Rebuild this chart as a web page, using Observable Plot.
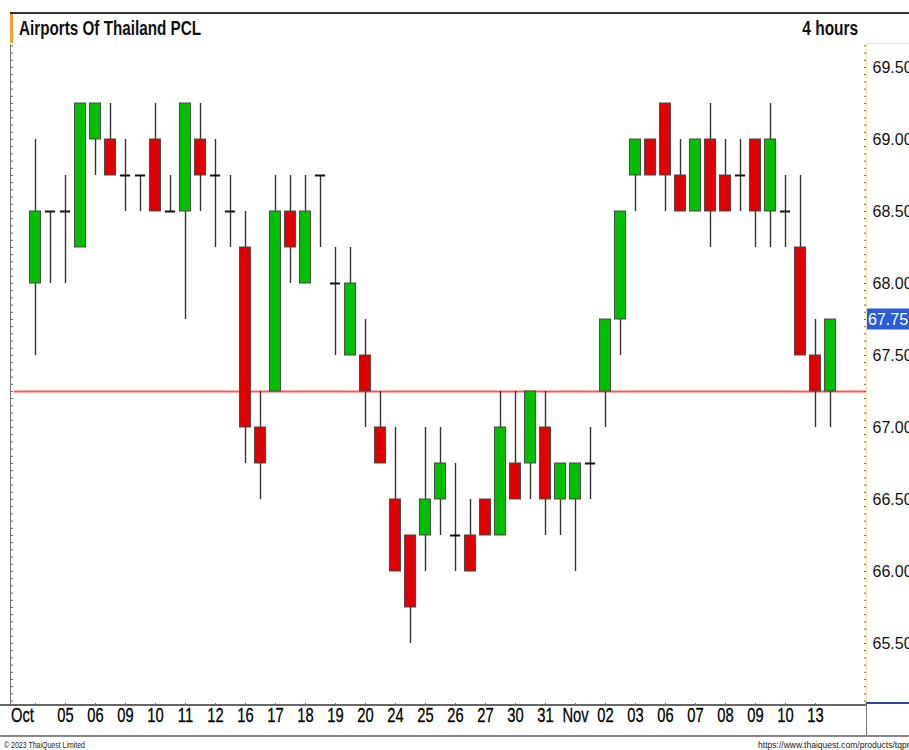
<!DOCTYPE html>
<html>
<head>
<meta charset="utf-8">
<script src="https://cdn.jsdelivr.net/npm/d3@7"></script>
<script src="https://cdn.jsdelivr.net/npm/@observablehq/plot@0.6"></script>
<style>
  html, body { margin: 0; padding: 0; background: #fff; }
  #wrap { position: relative; width: 909px; height: 750px; overflow: hidden; background: #fff;
          font-family: "Liberation Sans Narrow", "Liberation Sans", Arial, sans-serif; color: #111; }
  .abs { position: absolute; }
  .line { position: absolute; }
  #title { left: 19px; top: 16px; font-size: 21px; font-weight: bold; white-space: nowrap; transform-origin: 0 50%; }
  #period { right: 51px; top: 17px; font-size: 20px; font-weight: bold; white-space: nowrap; transform-origin: 100% 50%; }
  #chart { left: 0; top: 44px; }
  #copy { left: 4px; top: 740px; font-size: 9px; white-space: nowrap; transform-origin: 0 50%; color: #222; }
  #url { left: 758px; top: 740px; font-size: 9px; white-space: nowrap; color: #222; transform-origin: 0 50%; }
</style>
</head>
<body>
<div id="wrap">
  <div class="line" style="left:10px;top:12px;width:899px;height:2px;background:#333"></div>
  <div class="line" style="left:10px;top:14px;width:3px;height:29px;background:#f0a030"></div>
  <div id="title" class="abs">Airports Of Thailand PCL</div>
  <div id="period" class="abs">4 hours</div>
  <div id="chart" class="abs"></div>
  <div class="line" style="left:10px;top:44px;width:1px;height:661px;background:#777"></div>
  <div class="line" style="left:866px;top:44px;width:1px;height:659px;background:#f1e3a0"></div>
  <div class="line" style="left:866px;top:43px;width:43px;height:1px;background:#f1e3a0"></div>
  <div class="line" style="left:866px;top:702px;width:43px;height:2px;background:#2a46a8"></div>
  <div class="line" style="left:0px;top:704px;width:867px;height:2px;background:#666"></div>
  <div class="line" style="left:866px;top:704px;width:1px;height:32px;background:#777"></div>
  <div class="line" style="left:0px;top:735px;width:909px;height:2px;background:#888"></div>
  <div id="copy" class="abs">© 2023 ThaiQuest Limited</div>
  <div id="url" class="abs">https://www.thaiquest.com/products/tqprofessional</div>
</div>
<script>
// ---- data (4-hour bars, two per trading day) ----
const openPrices  = [68.00,68.50,68.50,68.25,69.00,69.00,68.75,68.75,69.00,68.50,
                     68.50,69.00,68.75,68.50,68.25,67.00,67.25,68.50,68.00,68.75,
                     68.00,67.50,67.50,67.00,66.50,66.25,66.25,66.50,66.25,66.25,
                     66.50,66.25,66.75,66.75,67.00,66.50,66.50,66.75,67.25,67.75,
                     68.75,69.00,69.25,68.75,68.50,69.00,68.75,68.75,69.00,68.50,
                     68.50,68.25,67.50,67.25];
const highPrices  = [69.00,68.50,68.75,69.25,69.25,69.25,69.00,68.75,69.25,68.75,
                     69.25,69.25,69.00,68.75,68.50,67.25,68.75,68.75,68.75,68.75,
                     68.25,68.25,67.75,67.25,67.00,66.25,67.00,67.00,66.75,66.50,
                     66.50,67.25,67.25,67.25,67.25,66.75,66.75,67.00,67.75,68.50,
                     69.00,69.00,69.25,69.00,69.00,69.25,69.00,69.00,69.00,69.25,
                     68.75,68.75,67.75,67.75];
const lowPrices   = [67.50,68.00,68.00,68.25,68.75,68.75,68.50,68.50,68.50,68.50,
                     67.75,68.50,68.25,68.25,66.75,66.50,67.25,68.00,68.00,68.25,
                     67.50,67.50,67.00,66.75,66.00,65.50,66.00,66.25,66.00,66.00,
                     66.25,66.25,66.50,66.50,66.25,66.25,66.00,66.50,67.00,67.50,
                     68.50,68.75,68.50,68.50,68.50,68.25,68.50,68.50,68.25,68.25,
                     68.25,67.50,67.00,67.00];
const closePrices = [68.50,68.50,68.50,69.25,69.25,68.75,68.75,68.75,68.50,68.50,
                     69.25,68.75,68.75,68.50,67.00,66.75,68.50,68.25,68.50,68.75,
                     68.00,68.00,67.25,66.75,66.00,65.75,66.50,66.75,66.25,66.00,
                     66.25,67.00,66.50,67.25,66.50,66.75,66.75,66.75,67.75,68.50,
                     69.00,68.75,68.75,68.50,69.00,68.50,68.50,68.75,68.50,69.00,
                     68.50,67.50,67.25,67.75];
const dayLabels   = ["Oct","05","06","09","10","11","12","16","17","18","19","20","24","25",
                     "26","27","30","31","Nov","02","03","06","07","08","09","10","13"];
const dayFirstBar = [0,2,4,6,8,10,12,14,16,18,20,22,24,26,28,30,32,34,36,38,40,42,44,46,48,50,52];
const referenceLevel = 67.25;
const priceTicks = [65.5,66.0,66.5,67.0,67.5,68.0,68.5,69.0,69.5];

const bars = openPrices.map((o, i) => ({i, o, h: highPrices[i], l: lowPrices[i], c: closePrices[i]}));
const bodies = bars.filter(d => d.o !== d.c);
const dojis = bars.filter(d => d.o === d.c);
const minorTicks = d3.range(65.10, 69.66, 0.05);
const labelTable = dayFirstBar.map((b, k) => ({b, t: dayLabels[k]}));
const lastClose = closePrices[closePrices.length - 1];

const GREEN = "#00be00", RED = "#e00000";
const LABEL_FONT = "Liberation Sans, Arial, sans-serif";

const chart = Plot.plot({
  width: 909,
  height: 692,
  marginLeft: 10,
  marginRight: 43,
  marginTop: 0,
  marginBottom: 33,
  style: {background: "transparent", overflow: "visible"},
  x: {domain: [-1.6667, 55.4]},
  y: {domain: [65.0833, 69.6597]},
  marks: [
    Plot.ruleY([{level: referenceLevel}], {y: "level", x1: -1.4, x2: 55.4, stroke: "#ff5656", strokeWidth: 2}),
    Plot.ruleX(bars, {x: "i", y1: "l", y2: "h", stroke: "#333", strokeWidth: 1.4}),
    Plot.rect(bodies.filter(d => d.c > d.o), {
      x1: d => d.i - 0.37, x2: d => d.i + 0.37, y1: "o", y2: "c",
      fill: GREEN, stroke: "#4a4a4a", strokeWidth: 1
    }),
    Plot.rect(bodies.filter(d => d.c < d.o), {
      x1: d => d.i - 0.37, x2: d => d.i + 0.37, y1: "o", y2: "c",
      fill: RED, stroke: "#4a4a4a", strokeWidth: 1
    }),
    Plot.ruleY(dojis, {y: "o", x1: d => d.i - 0.34, x2: d => d.i + 0.34, stroke: "#111", strokeWidth: 2}),
    Plot.axisY({anchor: "right", ticks: priceTicks, tickSize: 0, tickPadding: 6,
                tickFormat: d => d.toFixed(2), fontSize: 16, fontFamily: LABEL_FONT,
                fill: "#111", label: null}),
    Plot.axisY({anchor: "right", ticks: minorTicks, tickSize: -3, stroke: "#666", fill: "none", label: null}),
    Plot.axisY({anchor: "left", ticks: minorTicks, tickSize: -3, stroke: "#666", fill: "none", label: null}),
    Plot.axisX({ticks: dayFirstBar, tickSize: 2, stroke: "#666", fill: "none", label: null}),
    Plot.text(labelTable.slice(1), {x: "b", text: "t", frameAnchor: "bottom", dy: 18,
      fontSize: 21, fill: "#000", fontFamily: LABEL_FONT, stroke: "#000", strokeWidth: 0.3}),
    Plot.text(labelTable.slice(0, 1), {x: "b", text: "t", frameAnchor: "bottom", dy: 18, dx: -13,
      fontSize: 21, fill: "#000", fontFamily: LABEL_FONT, stroke: "#000", strokeWidth: 0.3})
  ]
});

document.getElementById("chart").appendChild(chart);

// last-price marker on the right axis, positioned through Plot's y scale
const yLast = chart.scale("y").apply(lastClose);
const svg = d3.select(chart);
svg.append("rect").attr("x", 867).attr("y", yLast - 10.5).attr("width", 42).attr("height", 21).attr("fill", "#2b5bd6");
svg.append("text").attr("x", 868).attr("y", yLast).attr("dy", "0.35em").attr("text-anchor", "start")
   .attr("fill", "#fff").attr("font-size", 16).attr("font-family", LABEL_FONT)
   .text(lastClose.toFixed(2));

// condense the x labels like the reference lettering
svg.selectAll("text").each(function() {
  if (!dayLabels.includes(this.textContent)) return;
  const len = this.getComputedTextLength();
  if (len > 0) {
    this.setAttribute("textLength", (len * 0.7).toFixed(1));
    this.setAttribute("lengthAdjust", "spacingAndGlyphs");
  }
});

function fitWidth(id, target) {
  const el = document.getElementById(id);
  el.style.display = "inline-block";
  const w = el.getBoundingClientRect().width;
  if (w > 0) el.style.transform = `scaleX(${target / w})`;
}
fitWidth("title", 182);
fitWidth("period", 56);
fitWidth("copy", 81);
fitWidth("url", 190);
</script>
</body>
</html>
